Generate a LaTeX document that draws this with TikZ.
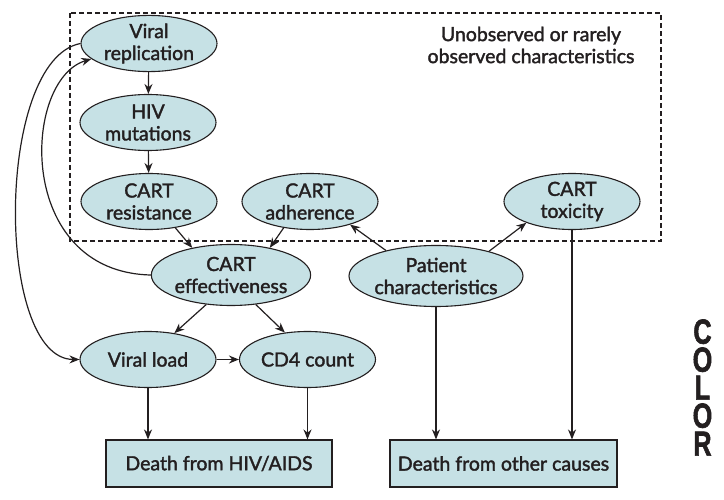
\documentclass[tikz,border=0pt]{standalone}
\usepackage{fontspec}
\setmainfont{Lato}[FakeBold=1.8]
\newfontfamily\stampfont{Liberation Sans}[FakeBold=2]
\usetikzlibrary{shapes.geometric,arrows.meta}
\definecolor{cellfill}{RGB}{198,225,229}
\definecolor{ink}{RGB}{35,31,32}
\tikzset{
	ell/.style={ellipse, draw=ink, line width=1.1pt, fill=cellfill, inner sep=0pt, minimum width=136pt, minimum height=56pt, align=center, text=ink, font=\fontsize{19.5}{22}\selectfont},
	wide/.style={ell, minimum width=148pt, minimum height=61pt},
	outcome/.style={rectangle, draw=ink, line width=1.1pt, fill=cellfill, inner sep=0pt, minimum width=226pt, minimum height=47pt, text=ink, font=\fontsize{19.5}{22}\selectfont},
	arr/.style={-{Stealth[length=10pt,width=8pt]}, line width=1.2pt, draw=ink}
}
\newcommand{\tall}[1]{\scalebox{1.05}[1.45]{#1}}
\begin{document}
\begin{tikzpicture}[x=1pt,y=-1pt]
				\useasboundingbox (0,0) rectangle (724,500);
				\draw[ink, line width=1.2pt, dash pattern=on 5pt off 3pt] (70,13) rectangle (661,241);
				\node[align=center, text=ink, font=\fontsize{19.5}{22}\selectfont] (T) at (531,45) {Unobserved or rarely\\observed characteristics};
				\node[ell] (VR) at (149,43.5) {Viral\\replication};
				\node[ell] (HM) at (148,122.5) {HIV\\mutations};
				\draw[arr] (VR) -- (HM);
				\node[ell] (CR) at (149,201.5) {CART\\resistance};
				\draw[arr] (HM) -- (CR);
				\node[ell] (CA) at (310,201.5) {CART\\adherence};
				\node[ell] (CT) at (572,201.5) {CART\\toxicity};
				\node[wide] (CE) at (231,275) {CART\\effectiveness};
				\draw[arr] (CR.-45) -- (CE.145);
				\draw[arr] (CA.-135) -- (CE.35);
				\node[wide] (PC) at (436,276) {Patient\\characteristics};
				\draw[arr] (PC.153) -- (CA.-30);
				\draw[arr] (PC.25) -- (CT.205);
				\node[ell] (VL) at (148,359.5) {Viral load};
				\draw[arr] (CE.-130) -- (VL.45);
				\node[ell] (CD) at (307.5,359.5) {CD4 count};
				\draw[arr] (CE.-50) -- (CD.130);
				\draw[arr] (VL) -- (CD);
				\draw[arr] (VR.west) .. controls (-5,60) and (-5,359) .. (VL.west);
				\draw[arr] (CE.west) .. controls (15,272) and (22,80) .. (VR.195);
				\node[outcome] (DH) at (219,463.5) {Death from HIV/AIDS};
				\node[outcome, minimum width=227pt] (DO) at (503.5,463.5) {Death from other causes};
				\draw[arr] (VL) -- (VL |- DH.north);
				\draw[arr] (CD) -- (CD |- DH.north);
				\draw[arr] (PC) -- (PC |- DO.north);
				\draw[arr] (CT) -- (CT |- DO.north);
				\node[align=center, text=ink, inner sep=0pt, font=\stampfont\bfseries\fontsize{24}{28}\selectfont] (S) at (702.5,387.5) {\tall{C}\\\tall{O}\\\tall{L}\\\tall{O}\\\tall{R}};
			\end{tikzpicture}
\end{document}
